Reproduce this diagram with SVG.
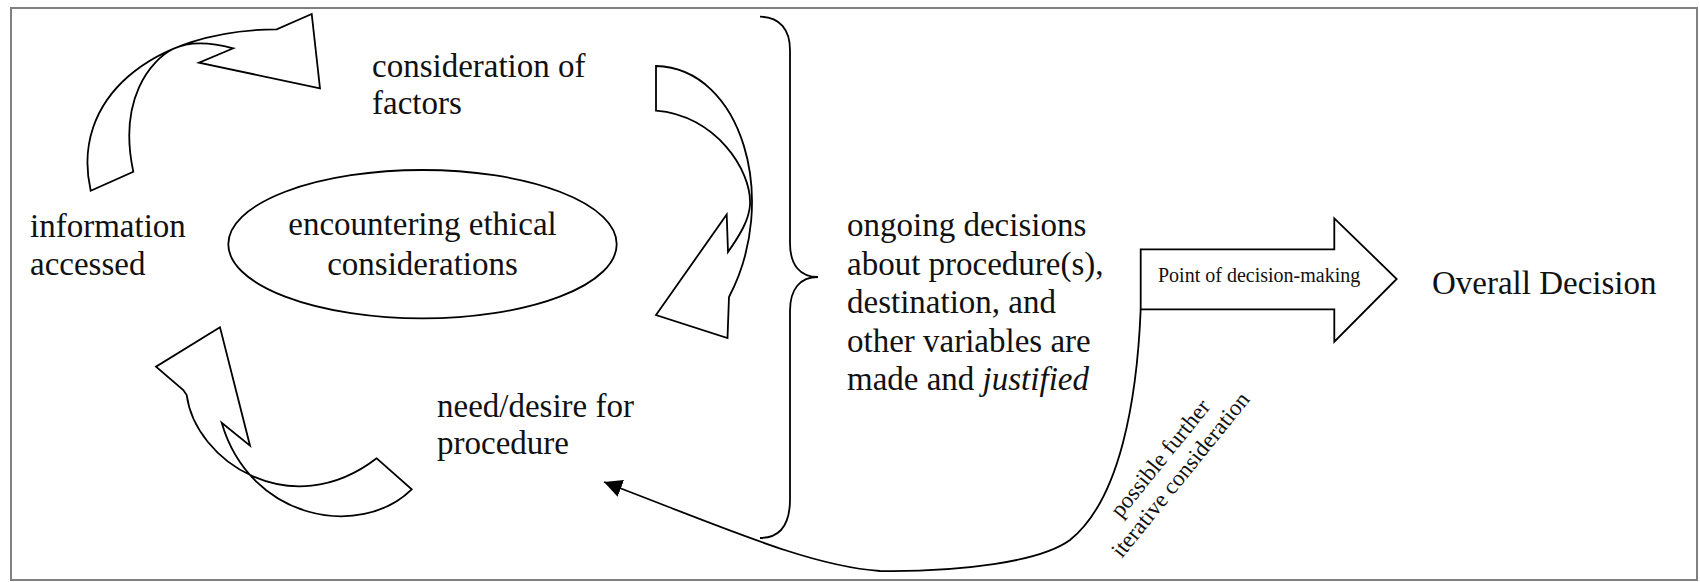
<svg xmlns="http://www.w3.org/2000/svg" width="1700" height="582" viewBox="0 0 1700 582">
  <defs>
    <style>
      .t { font-family: "Liberation Serif", "Times New Roman", serif; font-size: 33px; fill: #111; }
      .s { font-family: "Liberation Serif", "Times New Roman", serif; font-size: 20px; fill: #111; }
      .r { font-family: "Liberation Serif", "Times New Roman", serif; font-size: 23px; fill: #111; text-anchor: middle; }
      .shape { fill: #fff; stroke: #000; stroke-width: 1.8; stroke-linejoin: miter; }
      .line { fill: none; stroke: #000; stroke-width: 1.8; }
    </style>
    <marker id="ah" markerUnits="userSpaceOnUse" markerWidth="20" markerHeight="20" refX="18" refY="9" orient="auto" viewBox="0 0 20 20">
      <path d="M0,0 L18,9 L0,18 Z" fill="#000"/>
    </marker>
  </defs>

  <rect x="0" y="0" width="1700" height="582" fill="#fff"/>
  <rect id="frame" x="11" y="8" width="1686" height="572" fill="#fff" stroke="#808080" stroke-width="2"/>

  <g id="node-information">
    <text class="t" x="30" y="237">information</text>
    <text class="t" x="30" y="275">accessed</text>
  </g>

  <g id="node-consideration">
    <text class="t" x="372" y="77">consideration of</text>
    <text class="t" x="372" y="114">factors</text>
  </g>

  <g id="node-ethical">
    <ellipse class="shape" cx="422.5" cy="244.2" rx="194.2" ry="74.2"/>
    <text class="t" x="422.5" y="235" text-anchor="middle">encountering ethical</text>
    <text class="t" x="422.5" y="275" text-anchor="middle">considerations</text>
  </g>

  <g id="node-need">
    <text class="t" x="437" y="417">need/desire for</text>
    <text class="t" x="437" y="454">procedure</text>
  </g>

  <g id="node-decisions">
    <text class="t" x="847" y="236">ongoing decisions</text>
    <text class="t" x="847" y="275">about procedure(s),</text>
    <text class="t" x="847" y="313">destination, and</text>
    <text class="t" x="847" y="352">other variables are</text>
    <text class="t" x="847" y="390">made and <tspan font-style="italic">justified</tspan></text>
  </g>

  <g id="node-point">
    <path class="shape" d="M1140.7,249.3 L1334.3,249.3 L1334.3,218.3 L1396.7,279 L1334.3,341.7 L1334.3,309.3 L1140.7,309.3 Z"/>
    <text class="s" x="1158" y="282">Point of decision-making</text>
  </g>

  <g id="node-overall">
    <text class="t" x="1432" y="294">Overall Decision</text>
  </g>

  <g id="connectors">
    <!-- top-left curved arrow: information -> consideration -->
    <path class="shape" d="M90.7,190.7 C70,100 150,30 276.7,29.3 L311.7,14 L320,88.3 L199,62.7 L233.3,48.3 C210,42 190,41 174,48.5 C150,60 118,100 133.3,171.7 Z"/>
    <!-- right curved arrow: consideration -> down -->
    <path class="shape" d="M656,66 C742,68 780,200 729,297 L727.5,338 L656,315 L726.7,214.5 L728,252 C740,235 749,220 750,205 C752,170 715,115 656,110.6 Z"/>
    <!-- bottom-left curved arrow: need -> information (twisted) -->
    <path class="shape" d="M220,327.3 L156,366.7 L183.3,390 L186.7,395 C195,460 290,525 376.7,458.3 L411.7,489.3 C360,540 250,520 221.7,422.7 L250,445.7 Z"/>
    <!-- brace -->
    <path class="line" d="M760,16.7 C780,17 790,30 790,50 L790,243 C790,265 800,277 818,277 C800,277 790,289 790,311 L790,499 C790,525 780,538 760,538"/>
    <!-- return connector -->
    <path class="line" marker-end="url(#ah)" d="M1140.7,309.3 C1137,400 1120,500 1070,540 C1040,562 960,572 880,571 C810,566 730,530 604,482"/>
    <g transform="translate(1166,463) rotate(-51)">
      <text class="r" x="0" y="0">possible further</text>
      <text class="r" x="0" y="26">iterative consideration</text>
    </g>
  </g>
</svg>
